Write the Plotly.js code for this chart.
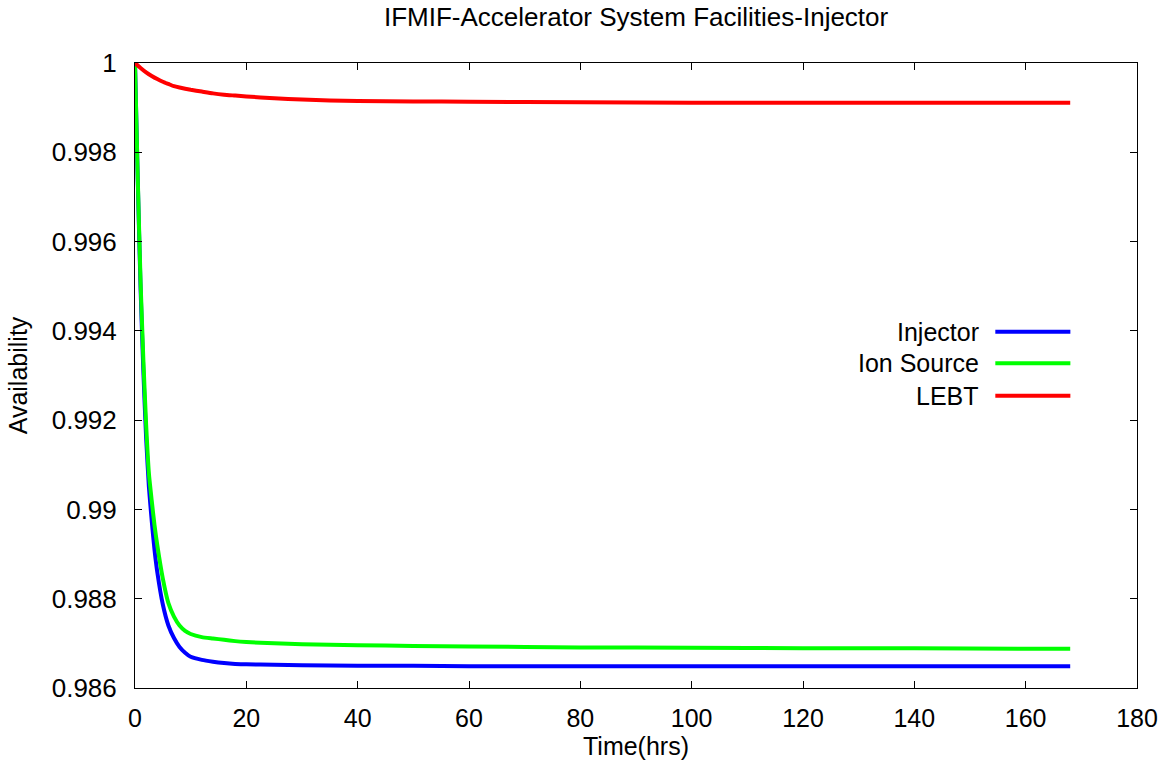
<!DOCTYPE html>
<html>
<head>
<meta charset="utf-8">
<script src="https://cdn.plot.ly/plotly-3.0.1.min.js"></script>
<style>html,body{margin:0;padding:0;background:#fff;}#chart{width:1164px;height:767px;}</style>
</head>
<body>
<div id="chart"></div>
<script>
// Time points (hrs)
const injectorTime = [0,0.5,1,1.5,2,2.5,3,3.5,4,5,6,7,8,9,10,12,14,16,18,20,25,30,40,50,60,80,100,120,140,160,168];
const injectorAvail = [1.00000,0.99735,0.99495,0.99310,0.99160,0.99050,0.98975,0.98910,0.98860,0.98787,0.98740,0.98712,0.98692,0.98679,0.98670,0.98663,0.98659,0.98656,0.98654,0.98653,0.98652,0.98651,0.98650,0.98650,0.98649,0.98649,0.98649,0.98649,0.98649,0.98649,0.98649];

const ionTime = [0,0.5,1,1.5,2,2.5,3,3.5,4,5,6,7,8,9,10,12,14,16,18,20,25,30,40,50,60,80,100,120,140,160,168];
const ionAvail = [1.00000,0.99740,0.99510,0.99335,0.99190,0.99080,0.99020,0.98965,0.98920,0.98845,0.98790,0.98760,0.98740,0.98728,0.98721,0.98714,0.98711,0.98708,0.98705,0.98703,0.98700,0.98698,0.98696,0.98694,0.98693,0.98691,0.98690,0.98689,0.98689,0.98688,0.98688];

const lebtTime = [0,1,2,3,4,5,6,7,8,10,12,14,16,18,20,25,30,35,40,50,60,80,100,120,140,160,168];
const lebtAvail = [1.00000,0.99989,0.99979,0.99971,0.99964,0.99958,0.99953,0.99948,0.99945,0.99940,0.99936,0.99932,0.99929,0.99927,0.99925,0.99921,0.99918,0.99916,0.99915,0.99914,0.99913,0.99912,0.99911,0.99911,0.99911,0.99911,0.99911];

const seriesNames = ["Injector","Ion Source","LEBT"];
const seriesColors = ["#0000ff","#00ff00","#ff0000"];

const xTickVals = [0,20,40,60,80,100,120,140,160,180];
const yTickVals = [0.986,0.988,0.99,0.992,0.994,0.996,0.998,1];
const yTickText = ["0.986","0.988","0.99","0.992","0.994","0.996","0.998","1"];

const FONT = "Liberation Sans, Arial, Helvetica, sans-serif";

const xs = [injectorTime, ionTime, lebtTime];
const ys = [injectorAvail, ionAvail, lebtAvail];
const traces = seriesNames.map((n,i)=>({
  x: xs[i], y: ys[i], type:"scatter", mode:"lines", name:n,
  line:{color:seriesColors[i], width:4, shape:"spline", smoothing:0.5},
  showlegend:false
}));

// gnuplot-style key: text right-aligned, line sample to its right
const keyY = [0.570, 0.5195, 0.4677];
const annotations = seriesNames.map((n,i)=>({
  xref:"paper", yref:"paper", x:0.8446, y:keyY[i], xanchor:"right", yanchor:"middle",
  text:n, showarrow:false, font:{family:FONT, size:25, color:"#000"}
}));
annotations.push({xref:"paper", yref:"paper", x:0.5, y:1, yshift:46, xanchor:"center", yanchor:"middle",
  text:"IFMIF-Accelerator System Facilities-Injector", showarrow:false, font:{family:FONT, size:26, color:"#000"}});
const shapes = seriesNames.map((n,i)=>({
  type:"line", xref:"paper", yref:"paper", x0:0.8586, x1:0.9335, y0:keyY[i], y1:keyY[i],
  line:{color:seriesColors[i], width:4}
}));

const axisCommon = {
  showline:true, linecolor:"#000", linewidth:1, mirror:"ticks",
  ticks:"inside", ticklen:7, tickcolor:"#000", tickwidth:1,
  showgrid:false, zeroline:false,
  tickfont:{family:FONT, size:25, color:"#000"}
};

const layout = {
  width:1164, height:767,
  margin:{l:135, r:27, t:63, b:79},
  paper_bgcolor:"#fff", plot_bgcolor:"#fff",
  xaxis: Object.assign({}, axisCommon, {
    range:[0,180], tickvals:xTickVals, ticklabelstandoff:8,
    title:{text:"Time(hrs)", font:{family:FONT, size:25, color:"#000"}, standoff:0}
  }),
  yaxis: Object.assign({}, axisCommon, {
    range:[0.986,1], tickvals:yTickVals, ticktext:yTickText, ticklabelstandoff:12,
    tickfont:{family:FONT, size:26, color:"#000"},
    title:{text:"Availability", font:{family:FONT, size:25, color:"#000"}, standoff:16}
  }),
  annotations: annotations,
  shapes: shapes
};

Plotly.newPlot("chart", traces, layout, {displayModeBar:false, staticPlot:true});
</script>
</body>
</html>
